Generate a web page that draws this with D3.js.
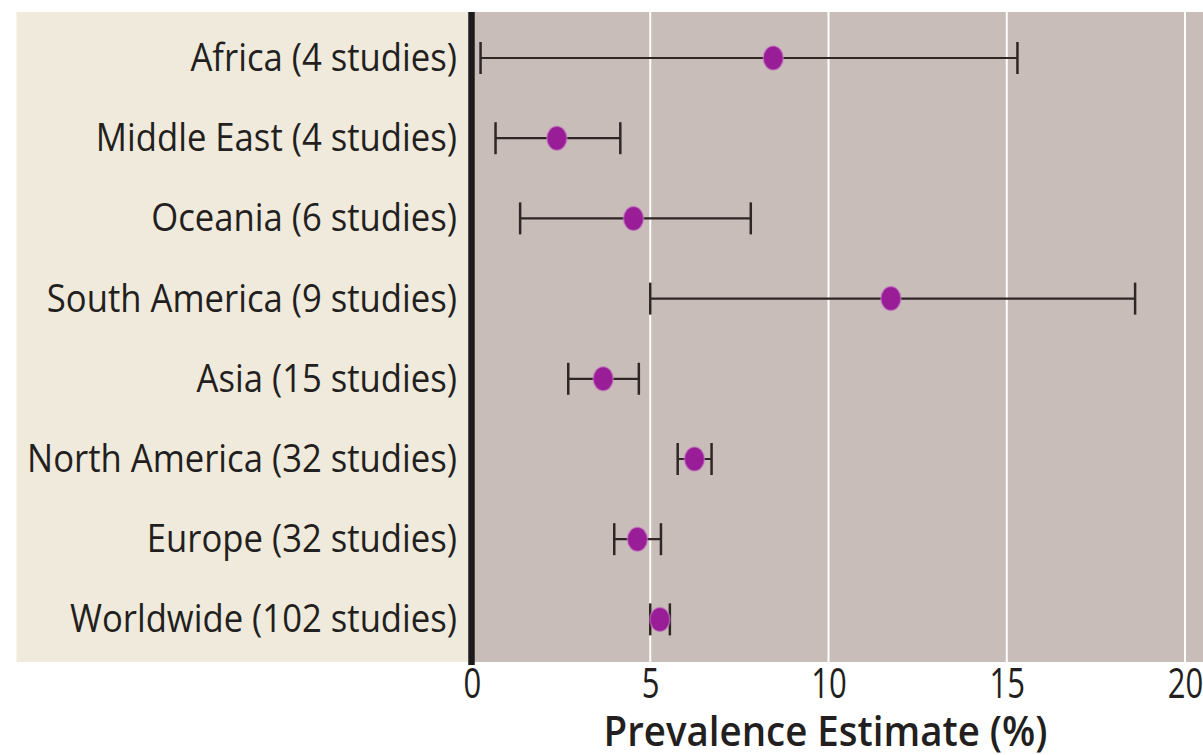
<!DOCTYPE html>
<html>
<head>
<meta charset="utf-8">
<script src="https://cdn.jsdelivr.net/npm/d3@7/dist/d3.min.js"></script>
<style>
  html, body { margin: 0; padding: 0; background: #ffffff; }
  svg { display: block; }
  text { font-family: "Open Sans", "Noto Sans", sans-serif; fill: #231f20; }
</style>
</head>
<body>
<svg id="chart" width="1203" height="755"></svg>
<script>
// Regional prevalence estimates with 95% confidence intervals
const regions  = ["Africa", "Middle East", "Oceania", "South America", "Asia", "North America", "Europe", "Worldwide"];
const studies  = [4, 4, 6, 9, 15, 32, 32, 102];
const estimate = [8.45, 2.38, 4.53, 11.75, 3.68, 6.24, 4.64, 5.27];
const lower    = [0.24, 0.66, 1.35, 5.00, 2.70, 5.77, 3.99, 5.00];
const upper    = [15.3, 4.16, 7.82, 18.6, 4.68, 6.72, 5.30, 5.55];
const xTicks   = [0, 5, 10, 15, 20];
const xTitle   = "Prevalence Estimate (%)";

const rows = regions.map((r, i) => ({
  label: `${r} (${studies[i]} studies)`,
  est: estimate[i], lo: lower[i], hi: upper[i]
}));

const svg = d3.select("#chart");
const panelTop = 12, panelBottom = 662;

const x = d3.scaleLinear().domain([0, 20]).range([472, 1185]);
const y = d3.scalePoint().domain(rows.map(d => d.label)).range([58, 619.4]);

// label panel and plot panel backgrounds
svg.append("rect").attr("x", 16.5).attr("y", panelTop).attr("width", 452).attr("height", panelBottom - panelTop)
  .attr("fill", "#efeadb");
svg.append("rect").attr("x", 474).attr("y", panelTop).attr("width", 1203 - 474).attr("height", panelBottom - panelTop)
  .attr("fill", "#c9bdba");

// vertical gridlines
svg.append("g").selectAll("line").data(xTicks.filter(t => t > 0)).join("line")
  .attr("x1", d => x(d)).attr("x2", d => x(d))
  .attr("y1", panelTop).attr("y2", panelBottom)
  .attr("stroke", "#ffffff").attr("stroke-width", 2);

// zero axis line
svg.append("line").attr("x1", x(0) - 0.5).attr("x2", x(0) - 0.5)
  .attr("y1", panelTop).attr("y2", panelBottom + 3)
  .attr("stroke", "#1c1a1a").attr("stroke-width", 6.5);

// x axis tick labels
const xAxis = d3.axisBottom(x).tickValues(xTicks).tickSize(0).tickPadding(0).tickFormat(d3.format("d"));
const gx = svg.append("g").attr("transform", `translate(0, ${panelBottom})`).call(xAxis);
gx.select(".domain").remove();
gx.selectAll(".tick text")
  .attr("y", 0).attr("dy", 0)
  .attr("text-anchor", "middle")
  .attr("transform", "translate(0,36) scale(0.74,1)")
  .style("font-family", '"Open Sans", "Noto Sans", sans-serif')
  .style("font-size", "42px")
  .attr("fill", "#231f20");

// axis title
const title = svg.append("text")
  .attr("font-size", "42px").attr("font-weight", 600)
  .attr("text-anchor", "middle")
  .text(xTitle);
const tw = title.node().getComputedTextLength();
const sTitle = 444 / tw;
title.attr("transform", `translate(${(x(0) + x(20)) / 2 - 3}, 746) scale(${sTitle},1)`);

// category labels, right aligned against the axis
const gLab = svg.append("g");
const labs = gLab.selectAll("text").data(rows).join("text")
  .attr("text-anchor", "end")
  .attr("font-size", "38px")
  .text(d => d.label);
const widest = d3.max(labs.nodes(), n => n.getComputedTextLength());
const sLab = 430 / widest;
labs.attr("transform", d => `translate(457, ${y(d.label) + 13}) scale(${sLab},1)`);

// confidence interval whiskers
const gBars = svg.append("g").attr("stroke", "#2f2626").attr("fill", "none");
gBars.selectAll("line.ci").data(rows).join("line").attr("class", "ci")
  .attr("x1", d => x(d.lo)).attr("x2", d => x(d.hi))
  .attr("y1", d => y(d.label)).attr("y2", d => y(d.label))
  .attr("stroke-width", 2.2);
gBars.selectAll("line.cap-lo").data(rows).join("line").attr("class", "cap-lo")
  .attr("x1", d => x(d.lo)).attr("x2", d => x(d.lo))
  .attr("y1", d => y(d.label) - 16).attr("y2", d => y(d.label) + 16)
  .attr("stroke-width", 2.5);
gBars.selectAll("line.cap-hi").data(rows).join("line").attr("class", "cap-hi")
  .attr("x1", d => x(d.hi)).attr("x2", d => x(d.hi))
  .attr("y1", d => y(d.label) - 16).attr("y2", d => y(d.label) + 16)
  .attr("stroke-width", 2.5);

// point estimates
svg.append("g").selectAll("ellipse").data(rows).join("ellipse")
  .attr("cx", d => x(d.est)).attr("cy", d => y(d.label))
  .attr("rx", 10).attr("ry", 12)
  .attr("fill", "#9a1d98")
  .attr("stroke", "#c47cc2").attr("stroke-opacity", 0.6).attr("stroke-width", 1.5);
</script>
</body>
</html>
